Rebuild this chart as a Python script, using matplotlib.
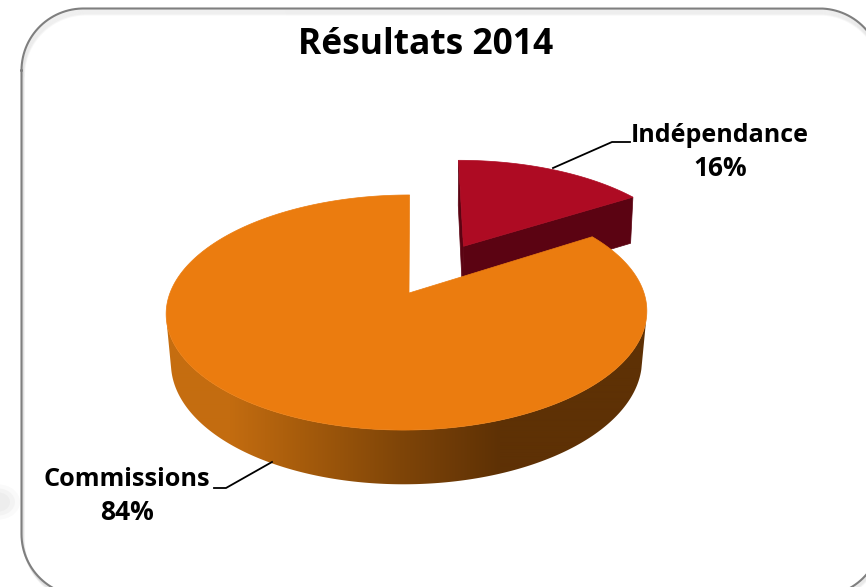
import numpy as np
import matplotlib
matplotlib.use("Agg")
import matplotlib.pyplot as plt
from matplotlib.patches import Ellipse, Polygon
from matplotlib.colors import to_rgb

title = "Résultats 2014"
categories = ["Indépendance", "Commissions"]
values = [16, 84]
explode = [0.5, 0.0]
top_colors = ["#AE0B23", "#EB7C0F"]
side_color = "#5B0312"

# projection of the tilted pie
X0, Y0, RX, RY, K, SHEAR = 407.0, 293.0, 237.0, 114.3, 0.166, -3.0
CX = 406.0
rim_nudge = [2.0, 0.0]
apex_nudge = [2.0, 2.0]
stops_x = [170, 230, 300, 400, 500, 640]
stops_c = ["#C66E10", "#C36C10", "#A75C0C", "#7F4508", "#5E3105", "#5E3105"]


def project(u, v):
    den = 1 - K * v
    return X0 + (RX * u + SHEAR * v) / den, Y0 + RY * v / den


def lower(x, y, v):
    scale = 0.98 - 0.01 * np.minimum(v, 0)
    depth = 48 * (1 + np.where(v > 0, 0.13, 0.04) * v)
    return CX + (x - CX) * scale, y + depth


def rounded_rect(x0, y0, x1, y1, r, n=60):
    t = np.linspace(0, np.pi / 2, n)
    xs = np.r_[x0 + r - r * np.cos(t), x1 - r + r * np.sin(t),
               x1 - r + r * np.cos(t), x0 + r - r * np.sin(t)]
    ys = np.r_[y0 + r - r * np.sin(t), y0 + r - r * np.cos(t),
               y1 - r + r * np.sin(t), y1 - r + r * np.cos(t)]
    return xs, ys


fig = plt.figure(figsize=(8.66, 5.87), dpi=100)
ax = fig.add_axes([0, 0, 1, 1])
ax.set_xlim(0, 866)
ax.set_ylim(587, 0)
ax.axis("off")

# background blob and panel
for w, a in [(44, .04), (34, .05), (24, .05)]:
    ax.add_patch(Ellipse((-2, 502), w, w * 0.8, color="#808080", alpha=a, lw=0))
for i in range(1, 7):
    xs, ys = rounded_rect(21.5 + i * .4, 8.5 + i, 881.5, 596 + i, 62)
    ax.plot(np.r_[xs, xs[0]], np.r_[ys, ys[0]], color="#808080", lw=1.5, alpha=0.06)
xs, ys = rounded_rect(21.5, 8.5, 881.5, 596, 62)
ax.plot(np.r_[xs, xs[0]], np.r_[ys, ys[0]], color="#7F7F7F", lw=1.5)

# angular extents from the values
fracs = np.array(values) / sum(values)
ends = np.cumsum(fracs) * 2 * np.pi
starts = ends - fracs * 2 * np.pi
geo = []
for s, e, ex, rn, an in zip(starts, ends, explode, rim_nudge, apex_nudge):
    mid = (s + e) / 2
    ou, ov = ex * np.sin(mid), -ex * np.cos(mid)
    phi = np.linspace(s, e, 400)
    u = ou + np.sin(phi)
    v = ov - np.cos(phi)
    x, y = project(u, v)
    x = x + rn
    ax_, ay_ = project(ou, ov)
    ax_ = ax_ + an
    lx, ly = lower(x, y, v)
    alx, aly = lower(np.array(ax_), np.array(ay_), np.array(ov))
    geo.append(dict(x=x, y=y, v=v, lx=lx, ly=ly, ax=ax_, ay=ay_, alx=alx, aly=aly))

# red slice
g = geo[0]
ax.fill([g["x"][0], g["ax"], g["alx"], g["lx"][0]], [g["y"][0], g["ay"], g["aly"], g["ly"][0]],
        color=side_color, lw=0.5)
ax.fill([g["x"][-1], g["ax"], g["alx"], g["lx"][-1]], [g["y"][-1], g["ay"], g["aly"], g["ly"][-1]],
        color=side_color, lw=0.5)
ax.fill(np.r_[g["ax"], g["x"]], np.r_[g["ay"], g["y"]], color=top_colors[0], lw=0.5)

# orange slice: gradient wall then top
g = geo[1]
front = g["v"] > 0.22
wall = Polygon(np.c_[np.r_[g["x"][front], g["lx"][front][::-1]],
                     np.r_[g["y"][front], g["ly"][front][::-1]]],
               closed=True, transform=ax.transData, fc="none", ec="none")
ax.add_patch(wall)
gx = np.arange(150, 660)
rgb = np.array([to_rgb(c) for c in stops_c])
grad = np.stack([np.interp(gx, stops_x, rgb[:, i]) for i in range(3)], axis=-1)[None, :, :]
im = ax.imshow(grad, extent=(150, 660, 500, 280), aspect="auto", interpolation="bilinear", zorder=1.5)
im.set_clip_path(wall)
ax.fill(np.r_[g["ax"], g["x"]], np.r_[g["ay"], g["y"]], color=top_colors[1], lw=0.5, zorder=2)
ax.set_xlim(0, 866)
ax.set_ylim(587, 0)

# texts
font = "Open Sans"
ax.text(425.5, 45, title, ha="center", va="center", fontsize=25.5, fontweight="bold",
        family=font, color="black")
ax.plot([553, 612, 630], [168, 142, 142], color="black", lw=1.3)
ax.plot([272, 226, 214], [462, 488, 488], color="black", lw=1.3)
ax.text(720, 136, categories[0], ha="center", va="center", fontsize=18, fontweight="bold", family=font)
ax.text(720, 168, f"{values[0]}%", ha="center", va="center", fontsize=19, fontweight="bold", family=font)
ax.text(127, 480, categories[1], ha="center", va="center", fontsize=18.2, fontweight="bold", family=font)
ax.text(127, 512, f"{values[1]}%", ha="center", va="center", fontsize=19, fontweight="bold", family=font)

fig.savefig("out.png", dpi=100, facecolor="white")
